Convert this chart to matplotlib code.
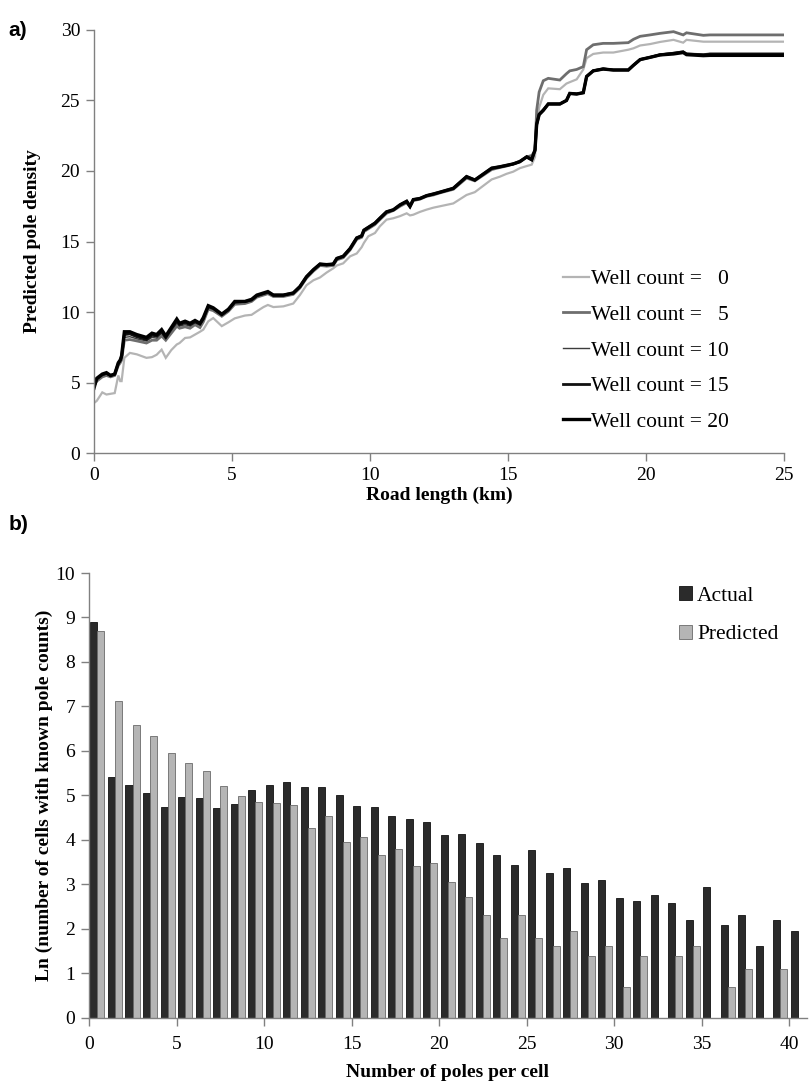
#!/usr/bin/env python3
"""Two-panel figure: predicted pole density vs road length (a) and
ln(count of cells) per pole count, actual vs predicted (b)."""

import matplotlib
matplotlib.use('Agg')
import matplotlib.pyplot as plt
import numpy as np

plt.rcParams['font.family'] = ['Liberation Serif', 'DejaVu Serif']

# --- panel a: predicted pole density along road length (km) ---
ROAD_KM = [
    0.0, 0.1, 0.3, 0.45, 0.6, 0.75, 0.88, 0.95, 1.0, 1.1, 1.3, 1.55, 1.9, 2.1,
    2.27, 2.45, 2.6, 2.8, 3.0, 3.1, 3.3, 3.48, 3.66, 3.84, 3.96, 4.14, 4.32,
    4.63, 4.87, 5.1, 5.47, 5.71, 5.9, 6.14, 6.3, 6.5, 6.86, 7.22, 7.46, 7.7,
    7.95, 8.19, 8.43, 8.67, 8.8, 9.03, 9.28, 9.52, 9.7, 9.78, 9.94, 10.18,
    10.36, 10.6, 10.85, 11.09, 11.33, 11.45, 11.57, 11.81, 12.05, 12.3, 12.54,
    13.02, 13.5, 13.8, 14.41, 14.71, 14.95, 15.19, 15.43, 15.68, 15.86, 15.98,
    16.04, 16.13, 16.28, 16.46, 16.88, 17.12, 17.24, 17.49, 17.73, 17.85,
    18.09, 18.45, 18.82, 19.36, 19.55, 19.79, 20.15, 20.51, 21.0, 21.35,
    21.47, 22.08, 22.32, 25.0,
]

WELL_0 = [
    3.55, 3.7, 4.3, 4.15, 4.2, 4.25, 5.5, 5.1, 5.1, 6.75, 7.1, 7.0, 6.75, 6.8,
    6.97, 7.33, 6.75, 7.3, 7.7, 7.8, 8.16, 8.2, 8.4, 8.6, 8.75, 9.34, 9.57,
    9.0, 9.27, 9.55, 9.75, 9.8, 10.05, 10.35, 10.5, 10.35, 10.4, 10.6, 11.2,
    11.9, 12.25, 12.45, 12.8, 13.1, 13.3, 13.45, 13.95, 14.15, 14.6, 14.9,
    15.37, 15.6, 16.08, 16.55, 16.65, 16.8, 17.0, 16.85, 16.9, 17.1, 17.26,
    17.4, 17.5, 17.7, 18.3, 18.5, 19.4, 19.6, 19.8, 19.95, 20.2, 20.35, 20.45,
    21.0, 23.0, 24.5, 25.4, 25.86, 25.8, 26.2, 26.3, 26.5, 27.2, 28.0, 28.3,
    28.4, 28.4, 28.6, 28.7, 28.9, 29.0, 29.15, 29.3, 29.1, 29.3, 29.17, 29.17,
    29.17,
]

WELL_5 = [
    4.8, 5.1, 5.4, 5.5, 5.4, 5.5, 6.2, 6.4, 6.6, 8.0, 8.05, 7.95, 7.8, 8.0,
    8.0, 8.3, 8.0, 8.5, 9.0, 8.85, 8.95, 8.85, 9.1, 8.9, 9.3, 10.2, 10.1, 9.7,
    10.05, 10.55, 10.6, 10.75, 11.05, 11.2, 11.3, 11.1, 11.1, 11.25, 11.7,
    12.4, 12.9, 13.3, 13.25, 13.3, 13.7, 13.85, 14.4, 15.15, 15.3, 15.7, 15.9,
    16.2, 16.55, 17.0, 17.2, 17.5, 17.75, 17.45, 17.9, 18.0, 18.2, 18.3,
    18.45, 18.7, 19.5, 19.3, 20.1, 20.25, 20.35, 20.5, 20.7, 21.0, 21.1, 21.4,
    24.3, 25.6, 26.4, 26.57, 26.45, 26.9, 27.1, 27.2, 27.4, 28.6, 28.95,
    29.05, 29.05, 29.1, 29.34, 29.55, 29.65, 29.76, 29.88, 29.65, 29.8,
    29.62, 29.65, 29.65,
]

WELL_10 = [
    4.9, 5.2, 5.5, 5.6, 5.45, 5.55, 6.3, 6.5, 6.75, 8.2, 8.25, 8.1, 7.95,
    8.2, 8.15, 8.5, 8.1, 8.7, 9.2, 9.0, 9.1, 9.0, 9.25, 9.05, 9.45, 10.3,
    10.2, 9.75, 10.1, 10.65, 10.7, 10.8, 11.1, 11.25, 11.35, 11.15, 11.15,
    11.3, 11.75, 12.45, 12.95, 13.35, 13.3, 13.35, 13.75, 13.9, 14.45, 15.2,
    15.35, 15.75, 15.95, 16.25, 16.6, 17.05, 17.25, 17.55, 17.8, 17.5, 17.95,
    18.05, 18.25, 18.35, 18.5, 18.75, 19.55, 19.35, 20.15, 20.3, 20.4, 20.5,
    20.65, 21.0, 20.85, 21.45, 23.4, 24.1, 24.4, 24.8, 24.8, 25.05, 25.55,
    25.5, 25.6, 26.75, 27.15, 27.3, 27.2, 27.2, 27.55, 27.95, 28.1, 28.3,
    28.4, 28.5, 28.35, 28.3, 28.35, 28.35,
]

WELL_15 = [
    4.7, 5.25, 5.55, 5.65, 5.5, 5.6, 6.35, 6.55, 6.85, 8.4, 8.45, 8.25, 8.05,
    8.35, 8.3, 8.6, 8.2, 8.8, 9.35, 9.1, 9.25, 9.1, 9.3, 9.15, 9.5, 10.4,
    10.25, 9.8, 10.15, 10.7, 10.75, 10.85, 11.15, 11.3, 11.4, 11.2, 11.2,
    11.35, 11.8, 12.5, 13.0, 13.4, 13.35, 13.4, 13.8, 13.95, 14.5, 15.25,
    15.4, 15.8, 16.0, 16.3, 16.65, 17.1, 17.25, 17.6, 17.85, 17.5, 17.97,
    18.05, 18.25, 18.37, 18.5, 18.77, 19.6, 19.36, 20.2, 20.3, 20.4, 20.5,
    20.66, 21.0, 20.8, 21.5, 23.3, 24.0, 24.3, 24.75, 24.75, 25.0, 25.5,
    25.46, 25.55, 26.7, 27.1, 27.23, 27.16, 27.16, 27.5, 27.9, 28.06, 28.23,
    28.35, 28.45, 28.3, 28.23, 28.28, 28.28,
]

WELL_20 = [
    4.6, 5.3, 5.6, 5.7, 5.5, 5.6, 6.4, 6.6, 6.9, 8.6, 8.6, 8.4, 8.2, 8.5,
    8.4, 8.75, 8.3, 8.9, 9.5, 9.2, 9.35, 9.2, 9.4, 9.2, 9.6, 10.45, 10.3,
    9.85, 10.2, 10.75, 10.75, 10.9, 11.2, 11.35, 11.45, 11.2, 11.2, 11.35,
    11.8, 12.5, 13.0, 13.4, 13.36, 13.4, 13.8, 13.95, 14.5, 15.25, 15.4,
    15.8, 16.0, 16.3, 16.65, 17.1, 17.25, 17.6, 17.85, 17.5, 17.97, 18.05,
    18.25, 18.37, 18.5, 18.77, 19.6, 19.36, 20.2, 20.3, 20.4, 20.5, 20.66,
    21.0, 20.8, 21.5, 23.3, 24.0, 24.3, 24.75, 24.75, 25.0, 25.5, 25.46,
    25.55, 26.7, 27.1, 27.23, 27.16, 27.16, 27.5, 27.9, 28.06, 28.23, 28.3,
    28.4, 28.25, 28.18, 28.2, 28.2,
]

WELL_LABELS = ['Well count =   0', 'Well count =   5', 'Well count = 10',
               'Well count = 15', 'Well count = 20']

# --- panel b: ln(number of cells) per pole count ---
POLES = list(range(41))
ACTUAL = [
    8.90, 5.42, 5.24, 5.06, 4.74, 4.97, 4.94, 4.72, 4.80, 5.13, 5.23, 5.31,
    5.18, 5.18, 5.00, 4.76, 4.74, 4.53, 4.46, 4.40, 4.11, 4.13, 3.92, 3.65,
    3.44, 3.77, 3.26, 3.36, 3.04, 3.09, 2.70, 2.63, 2.77, 2.57, 2.20, 2.94,
    2.08, 2.30, 1.61, 2.20, 1.95,
]
PREDICTED = [
    8.69, 7.13, 6.59, 6.34, 5.95, 5.73, 5.54, 5.21, 4.99, 4.85, 4.82, 4.78,
    4.26, 4.53, 3.95, 4.06, 3.65, 3.80, 3.41, 3.47, 3.05, 2.71, 2.30, 1.79,
    2.30, 1.79, 1.61, 1.95, 1.39, 1.61, 0.69, 1.39, 0.0, 1.39, 1.61, 0.0,
    0.69, 1.10, 0.0, 1.10, 0.0,
]

AXIS_GREY = '#808080'


def _style_axes(ax):
    for side in ('top', 'right'):
        ax.spines[side].set_visible(False)
    for side in ('left', 'bottom'):
        ax.spines[side].set_color(AXIS_GREY)
        ax.spines[side].set_linewidth(1.0)
    ax.tick_params(direction='out', length=6, width=1.0, color=AXIS_GREY,
                   labelsize=14, pad=4)


def plot_density(ax):
    styles = [
        dict(color='#b4b4b4', lw=1.6),
        dict(color='#6e6e6e', lw=2.0),
        dict(color='#3c3c3c', lw=1.0),
        dict(color='#111111', lw=2.0),
        dict(color='#000000', lw=2.4),
    ]
    series = [WELL_0, WELL_5, WELL_10, WELL_15, WELL_20]
    for ys, label, st in zip(series, WELL_LABELS, styles):
        ax.plot(ROAD_KM, ys, label=label, solid_joinstyle='miter', **st)
    ax.set_xlim(0, 25)
    ax.set_ylim(0, 30)
    ax.set_xticks(range(0, 26, 5))
    ax.set_yticks(range(0, 31, 5))
    _style_axes(ax)
    ax.set_xlabel('Road length (km)', fontsize=14, fontweight='bold', labelpad=2)
    ax.set_ylabel('Predicted pole density', fontsize=14, fontweight='bold',
                  labelpad=14)
    ax.legend(loc='lower left', bbox_to_anchor=(0.668, 0.03), frameon=False,
              fontsize=15.5, handlelength=1.2, handletextpad=0.1,
              labelspacing=0.72, borderaxespad=0)


def plot_counts(ax):
    x = np.array(POLES)
    w = 0.4
    ax.bar(x + 0.286, ACTUAL, width=w, color='#2b2b2b', edgecolor='#111111',
           linewidth=0.6, label='Actual')
    ax.bar(x + 0.686, PREDICTED, width=w, color='#b5b5b5', edgecolor='#6a6a6a',
           linewidth=0.6, label='Predicted')
    ax.set_xlim(0, 41)
    ax.set_ylim(0, 10)
    ax.set_xticks(range(0, 41, 5))
    ax.set_yticks(range(0, 11))
    _style_axes(ax)
    ax.tick_params(axis='x', pad=7)
    ax.set_xlabel('Number of poles per cell', fontsize=14, fontweight='bold',
                  labelpad=8)
    ax.set_ylabel('Ln (number of cells with known pole counts)', fontsize=14,
                  fontweight='bold', labelpad=2)
    ax.legend(loc='upper left', bbox_to_anchor=(0.81, 0.99), frameon=False,
              fontsize=15.5, handlelength=0.6, handleheight=0.6,
              handletextpad=0.25, labelspacing=0.9, borderaxespad=0)


def main():
    fig = plt.figure(figsize=(8.09, 10.82), dpi=100)
    ax_a = fig.add_axes([0.1162, 0.5813, 0.8528, 0.3910])
    ax_b = fig.add_axes([0.1100, 0.0594, 0.8870, 0.4110])
    plot_density(ax_a)
    plot_counts(ax_b)
    fig.text(0.010, 0.972, 'a)', fontsize=15, fontweight='bold',
             family=['Liberation Sans', 'DejaVu Sans'], va='center')
    fig.text(0.010, 0.515, 'b)', fontsize=15, fontweight='bold',
             family=['Liberation Sans', 'DejaVu Sans'], va='center')
    fig.savefig('out.png', dpi=100)


if __name__ == '__main__':
    main()
